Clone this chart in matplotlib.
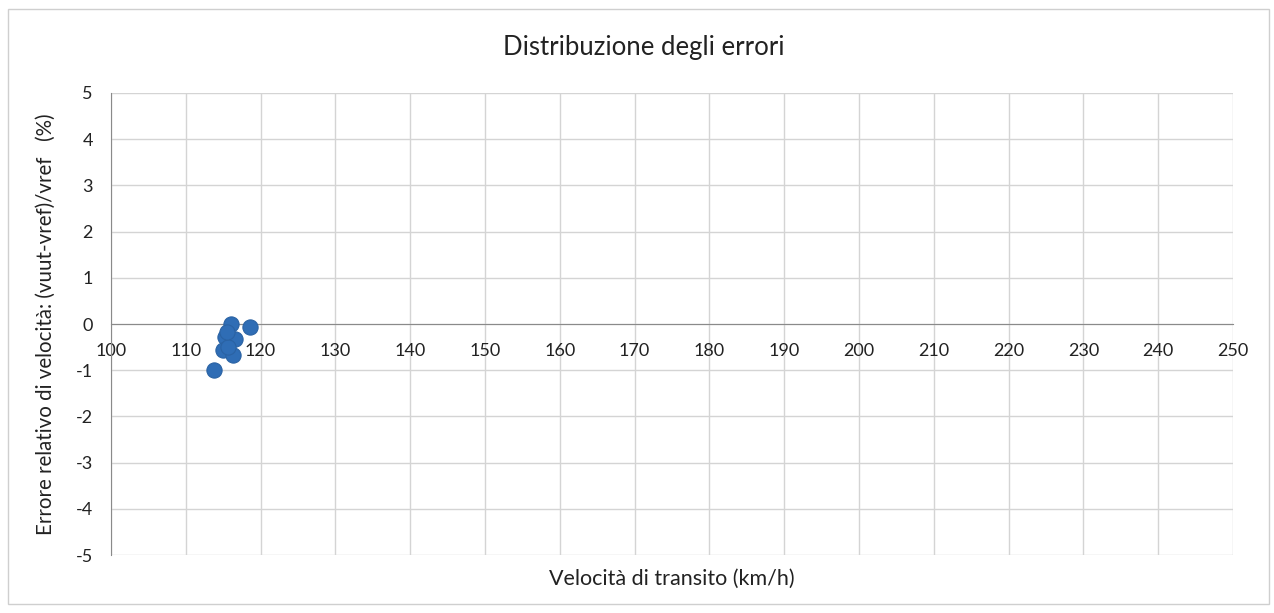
import numpy as np
import matplotlib.pyplot as plt
from matplotlib.patches import Rectangle

plt.rcParams['font.family'] = ['Lato', 'DejaVu Sans']
plt.rcParams['axes.unicode_minus'] = False

# data
vel = [113.8, 116.0, 118.6, 115.2, 116.6, 115.0, 116.3, 115.7, 115.5]
err = [-1.0, 0.0, -0.07, -0.28, -0.33, -0.57, -0.67, -0.5, -0.18]
xticks = list(range(100, 251, 10))
yticks = list(range(-5, 6))

fig = plt.figure(figsize=(12.74, 6.13), dpi=100)
fig.patches.append(Rectangle((0.006, 0.015), 0.99, 0.97, transform=fig.transFigure,
                             fill=False, edgecolor='#cfcfcf', lw=1))
ax = fig.add_axes([0.0871, 0.0946, 0.8807, 0.7537])

ax.scatter(vel, err, s=120, color='#2f6db5', edgecolor='#2a62a3', linewidth=0.8, zorder=3)

ax.set_xlim(100, 250)
ax.set_ylim(-5, 5)
ax.set_xticks(xticks)
ax.set_yticks(yticks)
ax.grid(True, color='#d4d4d4', lw=1)
ax.set_axisbelow(True)

for s in ['top', 'right']:
    ax.spines[s].set_visible(False)
ax.spines['bottom'].set_position(('data', 0))
ax.spines['bottom'].set_color('#8a8a8a')
ax.spines['left'].set_color('#8a8a8a')
ax.tick_params(axis='x', length=0, pad=14, labelsize=13, colors='#222222')
ax.tick_params(axis='y', length=0, pad=13, labelsize=13, colors='#222222')

fig.text(644 / 1274, 1 - 47 / 613, 'Distribuzione degli errori', fontsize=18.5,
         color='#222222', ha='center', va='center')
ax.set_xlabel('Velocità di transito (km/h)', fontsize=15.5, color='#222222')
ax.xaxis.set_label_coords(0.5, -0.03)
ax.set_ylabel('Errore relativo di velocità: (vuut-vref)/vref   (%)', fontsize=14.8, color='#222222')
ax.yaxis.set_label_coords(-0.049, 0.5)

fig.savefig('out.png', dpi=100)
